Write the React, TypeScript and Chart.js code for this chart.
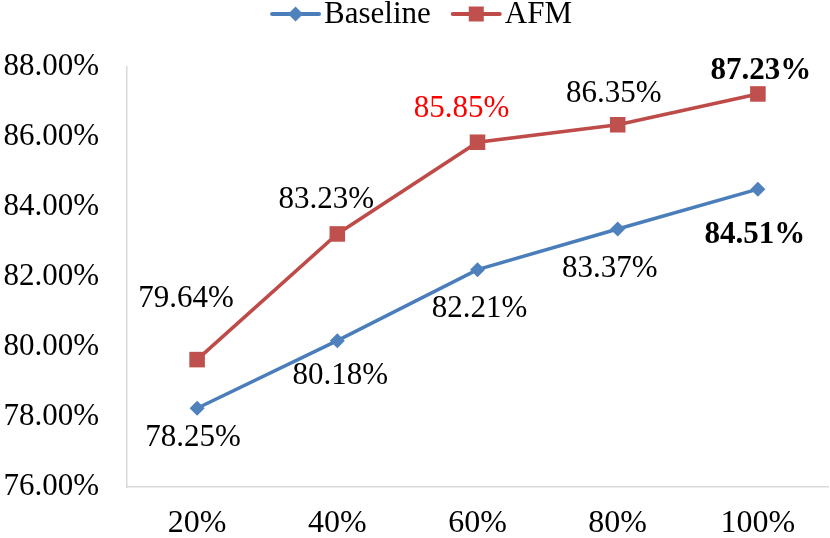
import React, { useEffect, useRef } from 'react';
import { Chart, registerables } from 'chart.js';

Chart.register(...registerables);

// ---- data ----
const categories = ['20%', '40%', '60%', '80%', '100%'];
const baselineValues = [78.25, 80.18, 82.21, 83.37, 84.51];
const afmValues = [79.64, 83.23, 85.85, 86.35, 87.23];
const yTickValues = [76, 78, 80, 82, 84, 86, 88];

// ---- styling ----
const FONT = "'Liberation Serif', 'Times New Roman', serif";
const FONT_SIZE = 31;
const BLUE_LINE = '#4A7EBB';
const BLUE_MARK = '#4F81BD';
const RED_LINE = '#BE4B48';
const RED_MARK = '#C0504D';
const AXIS = '#D9D9D9';

// label offsets (pixels from the point) and emphasis
const baselineLabelOffsets = [[-4, 30], [3, 35], [2, 39], [-8, 40], [-3, 46]];
const afmLabelOffsets = [[-11, -61], [-11, -34], [-16, -33], [-4, -31], [3, -23]];
const baselineLabelBold = [false, false, false, false, true];
const afmLabelBold = [false, false, false, false, true];
const baselineLabelColor = ['#000', '#000', '#000', '#000', '#000'];
const afmLabelColor = ['#000', '#000', '#FF0000', '#000', '#000'];

const labelPlugin = {
  id: 'pointLabels',
  afterDatasetsDraw(chart: any) {
    const ctx = chart.ctx;
    const cfgs = [
      { off: baselineLabelOffsets, bold: baselineLabelBold, color: baselineLabelColor, vals: baselineValues },
      { off: afmLabelOffsets, bold: afmLabelBold, color: afmLabelColor, vals: afmValues },
    ];
    ctx.save();
    ctx.textAlign = 'center';
    ctx.textBaseline = 'middle';
    cfgs.forEach((c, di) => {
      const meta = chart.getDatasetMeta(di);
      meta.data.forEach((pt: any, i: number) => {
        ctx.font = `${c.bold[i] ? 'bold ' : ''}${FONT_SIZE}px ${FONT}`;
        ctx.fillStyle = c.color[i];
        ctx.fillText(c.vals[i].toFixed(2) + '%', pt.x + c.off[i][0], pt.y + c.off[i][1]);
      });
    });
    ctx.restore();
  },
};

const legendPlugin = {
  id: 'lineLegend',
  afterDraw(chart: any) {
    const ctx = chart.ctx;
    ctx.save();
    ctx.font = `${FONT_SIZE}px ${FONT}`;
    ctx.textBaseline = 'middle';
    ctx.textAlign = 'left';
    const items = chart.data.datasets.map((ds: any) => ({
      label: ds.label,
      line: ds.borderColor,
      mark: ds.pointBackgroundColor,
      style: ds.pointStyle,
      w: ctx.measureText(ds.label).width,
    }));
    const seg = 47;
    const gapText = 5;
    const gapItem = 22;
    let total = 0;
    items.forEach((it: any, i: number) => {
      total += seg + gapText + it.w + (i < items.length - 1 ? gapItem : 0);
    });
    let x = 422 - total / 2;
    const y = 14;
    items.forEach((it: any) => {
      ctx.strokeStyle = it.line;
      ctx.lineWidth = 4;
      ctx.lineCap = 'round';
      ctx.beginPath();
      ctx.moveTo(x, y);
      ctx.lineTo(x + seg, y);
      ctx.stroke();
      const cx = x + seg / 2;
      ctx.fillStyle = it.mark;
      ctx.beginPath();
      if (it.style === 'rectRot') {
        const r = 7.5;
        ctx.moveTo(cx, y - r);
        ctx.lineTo(cx + r, y);
        ctx.lineTo(cx, y + r);
        ctx.lineTo(cx - r, y);
        ctx.closePath();
      } else {
        const h = 7.5;
        ctx.rect(cx - h, y - h, 2 * h, 2 * h);
      }
      ctx.fill();
      ctx.fillStyle = '#000';
      ctx.fillText(it.label, x + seg + gapText, y + 1);
      x += seg + gapText + it.w + gapItem;
    });
    ctx.restore();
  },
};

export default function App() {
  const ref = useRef<HTMLCanvasElement | null>(null);

  useEffect(() => {
    document.body.style.margin = '0';
    if (!ref.current) return;
    const chart = new Chart(ref.current, {
      type: 'line',
      data: {
        labels: categories,
        datasets: [
          {
            label: 'Baseline',
            data: baselineValues,
            borderColor: BLUE_LINE,
            backgroundColor: BLUE_MARK,
            pointBackgroundColor: BLUE_MARK,
            pointBorderColor: BLUE_MARK,
            pointStyle: 'rectRot',
            pointRadius: 7.5,
            pointBorderWidth: 0,
            borderWidth: 3.5,
            tension: 0,
            clip: false,
          },
          {
            label: 'AFM',
            data: afmValues,
            borderColor: RED_LINE,
            backgroundColor: RED_MARK,
            pointBackgroundColor: RED_MARK,
            pointBorderColor: RED_MARK,
            pointStyle: 'rect',
            pointRadius: 11,
            pointBorderWidth: 0,
            borderWidth: 3.5,
            tension: 0,
            clip: false,
          },
        ],
      },
      options: {
        responsive: false,
        animation: false,
        devicePixelRatio: 1,
        layout: { autoPadding: false, padding: { top: 67, right: 2, left: 0, bottom: 0 } },
        plugins: {
          legend: { display: false },
          tooltip: { enabled: false },
        },
        scales: {
          x: {
            offset: true,
            grid: { display: false, drawTicks: false },
            border: { display: true, color: AXIS, width: 1.5 },
            ticks: {
              font: { family: FONT, size: 32 },
              color: '#000',
              padding: 17,
              maxRotation: 0,
            },
            afterFit: (s: any) => {
              s.height = 51;
              s.paddingLeft = 0;
              s.paddingRight = 0;
            },
          },
          y: {
            min: 76,
            max: 88,
            grid: { display: false, drawTicks: false },
            border: { display: true, color: AXIS, width: 1.5 },
            afterBuildTicks: (s: any) => {
              s.ticks = yTickValues.map((v) => ({ value: v }));
            },
            ticks: {
              font: { family: FONT, size: FONT_SIZE },
              color: '#000',
              padding: 28,
              callback: (v: any) => Number(v).toFixed(2) + '%',
            },
            afterFit: (s: any) => {
              s.width = 127;
            },
          },
        },
      },
      plugins: [labelPlugin, legendPlugin],
    });
    return () => chart.destroy();
  }, []);

  return (
    <div style={{ width: 830, height: 538, background: '#fff' }}>
      <canvas ref={ref} width={830} height={538} style={{ display: 'block' }} />
    </div>
  );
}
